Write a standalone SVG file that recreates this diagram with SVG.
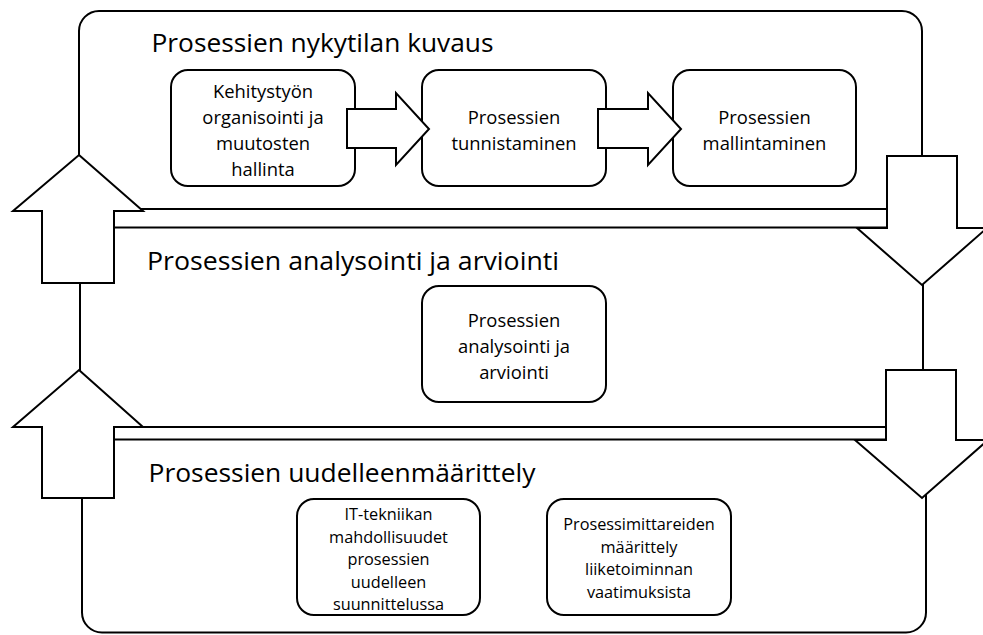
<svg xmlns="http://www.w3.org/2000/svg" width="983" height="635" viewBox="0 0 983 635">
<style>
.panel{fill:#fff;stroke:#000;stroke-width:2}
.box{fill:#fff;stroke:#000;stroke-width:2}
.arrow{fill:#fff;stroke:#000;stroke-width:2;stroke-linejoin:miter}
.title{font-family:"Open Sans","Liberation Sans",sans-serif;font-size:26px;fill:#000}
.t1{font-family:"Open Sans","Liberation Sans",sans-serif;font-size:18.4px;fill:#000;text-anchor:middle}
.t2{font-family:"Open Sans","Liberation Sans",sans-serif;font-size:16.3px;fill:#000;text-anchor:middle}
</style>
<rect width="983" height="635" fill="#fff"/>
<g id="panel-nykytila">
<rect class="panel" x="79" y="11" width="843" height="198" rx="20"/>
<text class="title" x="151.5" y="52" textLength="342" lengthAdjust="spacingAndGlyphs">Prosessien nykytilan kuvaus</text>
</g>
<g id="panel-analysointi">
<rect class="panel" x="80" y="227.5" width="843" height="199.5" rx="20"/>
<text class="title" x="147" y="270" textLength="412" lengthAdjust="spacingAndGlyphs">Prosessien analysointi ja arviointi</text>
</g>
<g id="panel-uudelleen">
<rect class="panel" x="82" y="439.5" width="844" height="193" rx="20"/>
<text class="title" x="148.5" y="482" textLength="387" lengthAdjust="spacingAndGlyphs">Prosessien uudelleenmäärittely</text>
</g>
<g id="box-kehitystyo">
<rect class="box" x="171" y="70" width="184" height="116" rx="17"/>
<text class="t1" x="263" y="97.5">Kehitystyön</text>
<text class="t1" x="263" y="123.5">organisointi ja</text>
<text class="t1" x="263" y="149.5">muutosten</text>
<text class="t1" x="263" y="175.5">hallinta</text>
</g>
<g id="box-tunnistaminen">
<rect class="box" x="422" y="70" width="184" height="116" rx="17"/>
<text class="t1" x="514" y="123.5">Prosessien</text>
<text class="t1" x="514" y="149.5">tunnistaminen</text>
</g>
<g id="box-mallintaminen">
<rect class="box" x="673" y="70" width="183" height="116" rx="17"/>
<text class="t1" x="764.5" y="123.5">Prosessien</text>
<text class="t1" x="764.5" y="149.5">mallintaminen</text>
</g>
<g id="box-analysointi">
<rect class="box" x="422" y="286" width="184" height="116" rx="17"/>
<text class="t1" x="514" y="326.5">Prosessien</text>
<text class="t1" x="514" y="352.5">analysointi ja</text>
<text class="t1" x="514" y="378.5">arviointi</text>
</g>
<g id="box-it">
<rect class="box" x="297" y="499" width="183" height="116" rx="17"/>
<text class="t2" x="388.5" y="520">IT-tekniikan</text>
<text class="t2" x="388.5" y="542.5">mahdollisuudet</text>
<text class="t2" x="388.5" y="565">prosessien</text>
<text class="t2" x="388.5" y="587.5">uudelleen</text>
<text class="t2" x="388.5" y="610">suunnittelussa</text>
</g>
<g id="box-mittarit">
<rect class="box" x="547" y="499" width="184" height="116" rx="17"/>
<text class="t2" x="639" y="530">Prosessimittareiden</text>
<text class="t2" x="639" y="552.5">määrittely</text>
<text class="t2" x="639" y="575">liiketoiminnan</text>
<text class="t2" x="639" y="597.5">vaatimuksista</text>
</g>
<g id="connectors">
<polygon class="arrow" points="347,109 396,109 396,93 429,129 396,165 396,148 347,148"/>
<polygon class="arrow" points="598,109 648,109 648,93 681,129 648,165 648,148 598,148"/>
<polygon class="arrow" points="79,155 143,211 114,211 114,283 42,283 42,211 13,211"/>
<polygon class="arrow" points="79,370 143,427 114,427 114,498 42,498 42,427 13,427"/>
<polygon class="arrow" points="887,156 957,156 957,228 987,228 922,285 857,228 887,228"/>
<polygon class="arrow" points="886,370 956,370 956,440 988,440 922,498 855,440 886,440"/>
</g>
</svg>
